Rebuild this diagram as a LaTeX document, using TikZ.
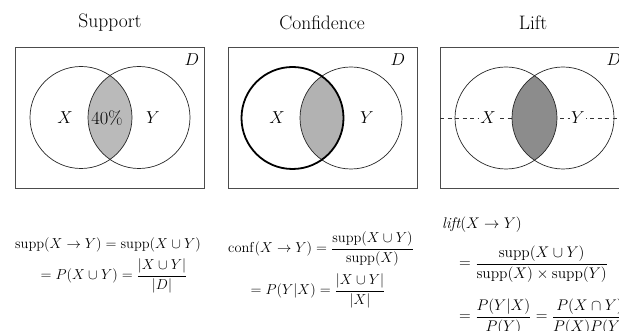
\documentclass[tikz,border=0pt]{standalone}
\usepackage{amsmath}
\begin{document}
\begin{tikzpicture}[x=1pt,y=-1pt,
  frame/.style={draw=black!70,line width=0.8pt},
  venn/.style={draw=black!85,line width=0.7pt},
  title/.style={font=\fontsize{19.5}{22}\selectfont},
  lbl/.style={font=\fontsize{17.28}{20}\selectfont},
  fml/.style={font=\fontsize{14.4}{17}\selectfont,inner sep=0pt},
  fmlw/.style={fml,anchor=west,scale=1.07,transform shape}]
\useasboundingbox (0,0) rectangle (619,331);
\clip (0,0) rectangle (619,331);
% ---------- Support ----------
\node[title] (t1) at (110,23) {Support};
\draw[frame] (15,47) rectangle (204,188);
\coordinate (s1) at (81,117.5);
\coordinate (s2) at (139,117.5);
\begin{scope}
  \clip (s1) circle (51);
  \fill[black!27] (s2) circle (51);
\end{scope}
\draw[venn] (s1) circle (51);
\draw[venn] (s2) circle (51);
\node[lbl] (d1) at (192,60) {$D$};
\node[lbl] (x1) at (65,118) {$X$};
\node[lbl] (y1) at (153,118) {$Y$};
\node[lbl,font=\fontsize{18.5}{20}\selectfont] (p1) at (107,118) {40\%};
% ---------- Confidence ----------
\node[title] (t2) at (322,23) {Confidence};
\draw[frame] (228,47) rectangle (417,188);
\coordinate (c1) at (292.5,118);
\coordinate (c2) at (351,118);
\begin{scope}
  \clip (c1) circle (51);
  \fill[black!30] (c2) circle (51);
\end{scope}
\draw[venn] (c2) circle (51);
\draw[black,line width=1.8pt] (c1) circle (51);
\node[lbl] (d2) at (398,60) {$D$};
\node[lbl] (x2) at (277,118) {$X$};
\node[lbl] (y2) at (367,118) {$Y$};
% ---------- Lift ----------
\node[title] (t3) at (533,23) {Lift};
\draw[frame] (440,47) rectangle (660,188);
\coordinate (l1) at (506,118);
\coordinate (l2) at (563,118);
\coordinate (la) at (440,118);
\coordinate (lb) at (660,118);
\draw[dash pattern=on 4pt off 3.5pt,black!80,line width=0.7pt] (la) -- (lb);
\begin{scope}
  \clip (l1) circle (51);
  \fill[black!45] (l2) circle (51);
\end{scope}
\draw[venn] (l1) circle (51);
\draw[venn] (l2) circle (51);
\node[lbl,fill=white,inner sep=1.5pt] (x3) at (488,118) {$X$};
\node[lbl,fill=white,inner sep=1.5pt] (y3) at (578,118) {$Y$};
\node[lbl] (d3) at (614,60) {$D$};
% ---------- formulas ----------
\node[fml] (f1a) at (108,245) {$\operatorname{supp}(X\rightarrow Y)=\operatorname{supp}(X\cup Y)$};
\node[fml] (f1b) at (114,276) {$=P(X\cup Y)=\dfrac{|X\cup Y|}{|D|}$};
\node[fml] (f2a) at (321,249) {$\operatorname{conf}(X\rightarrow Y)=\dfrac{\operatorname{supp}(X\cup Y)}{\operatorname{supp}(X)}$};
\node[fml] (f2b) at (318,291) {$=P(Y|X)=\dfrac{|X\cup Y|}{|X|}$};
\node[fmlw] (f3a) at (442,225) {$\textit{lift}(X\rightarrow Y)$};
\node[fmlw] (f3b) at (459,264) {$=\dfrac{\operatorname{supp}(X\cup Y)}{\operatorname{supp}(X)\times\operatorname{supp}(Y)}$};
\node[fmlw] (f3c) at (459,317) {$=\dfrac{P(Y|X)}{P(Y)}=\dfrac{P(X\cap Y)}{P(X)P(Y)}$};
\end{tikzpicture}
\end{document}
